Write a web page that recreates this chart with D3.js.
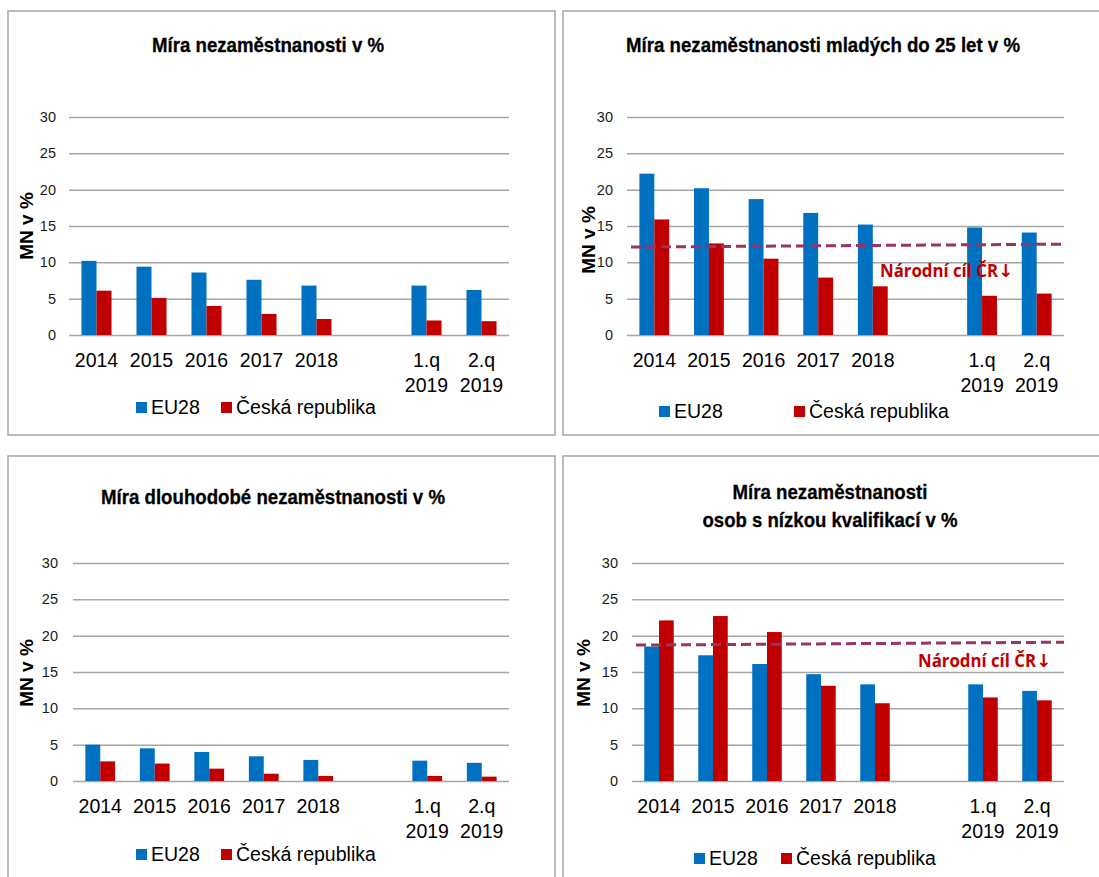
<!DOCTYPE html>
<html>
<head>
<meta charset="utf-8">
<script src="https://cdn.jsdelivr.net/npm/d3@7"></script>
<style>
body{margin:0;background:#fff;}
svg{display:block;font-family:"Liberation Sans",Arial,sans-serif;}
</style>
</head>
<body>
<svg id="chart" width="1099" height="877"></svg>
<script>
//Categories on the x axis (the empty one is the gap before the quarters)
const categories = ["2014","2015","2016","2017","2018","","1.q 2019","2.q 2019"];
const seriesNames = ["EU28","Česká republika"];
const yTicks = [0,5,10,15,20,25,30];
const targetLabel = "Národní cíl ČR";

//Míra nezaměstnanosti
const totalEU = [10.2,9.4,8.6,7.6,6.8,null,6.8,6.2];
const totalCR = [6.1,5.1,4.0,2.9,2.2,null,2.0,1.9];

//Míra nezaměstnanosti mladých do 25 let
const youthEU = [22.2,20.2,18.7,16.8,15.2,null,14.8,14.1];
const youthCR = [15.9,12.6,10.5,7.9,6.7,null,5.4,5.7];
const youthTarget = [12.1,12.5];

//Míra dlouhodobé nezaměstnanosti
const longEU = [5.0,4.5,4.0,3.4,2.9,null,2.8,2.5];
const longCR = [2.7,2.4,1.7,1.0,0.7,null,0.7,0.6];

//Míra nezaměstnanosti osob s nízkou kvalifikací
const lowEU = [18.5,17.3,16.1,14.7,13.3,null,13.3,12.4];
const lowCR = [22.1,22.7,20.5,13.1,10.7,null,11.5,11.1];
const lowTarget = [18.7,19.1];

const color = d3.scaleOrdinal().domain(seriesNames).range(["#0070C0","#C00000"]);

//Layout of the four panels
const panels = [
    {box:[8,11,547,424], left:69, right:509, top:117, bottom:335, tickX:56,
     title:["Míra nezaměstnanosti v %"], titleX:268, titleY:[52], titleLen:[232],
     yTitle:[33,226], xLabelY:367, legendX:[136,221], legendY:414,
     eu:totalEU, cr:totalCR},
    {box:[563,11,545,424], left:627, right:1064, top:117, bottom:335, tickX:613,
     title:["Míra nezaměstnanosti mladých do 25 let v %"], titleX:823, titleY:[52], titleLen:[394],
     yTitle:[595,240], xLabelY:367, legendX:[659,794], legendY:418,
     eu:youthEU, cr:youthCR, target:youthTarget, targetX:880, targetY:277},
    {box:[8,456,547,440], left:73, right:509, top:563, bottom:781, tickX:58,
     title:["Míra dlouhodobé nezaměstnanosti v %"], titleX:273, titleY:[504], titleLen:[344],
     yTitle:[33,673], xLabelY:813, legendX:[136,221], legendY:861,
     eu:longEU, cr:longCR},
    {box:[563,456,545,440], left:632, right:1064, top:563, bottom:781, tickX:618,
     title:["Míra nezaměstnanosti","osob s nízkou kvalifikací v %"], titleX:830, titleY:[499,527], titleLen:[195,255],
     yTitle:[590,673], xLabelY:813, legendX:[694,781], legendY:865,
     eu:lowEU, cr:lowCR, target:lowTarget, targetX:918, targetY:667}
];

const svg = d3.select("#chart");

function drawPanel(p){
    const g = svg.append("g");

    //Panel border
    g.append("rect")
        .attr("x",p.box[0]).attr("y",p.box[1])
        .attr("width",p.box[2]).attr("height",p.box[3])
        .attr("fill","#fff")
        .attr("stroke","#a6a6a6")
        .attr("stroke-width",1.5);

    //Title
    p.title.forEach((t,i)=>{
        g.append("text")
            .attr("x",p.titleX)
            .attr("y",p.titleY[i])
            .attr("text-anchor","middle")
            .attr("font-weight","bold")
            .style("font-size","21px")
            .attr("stroke","#000")
            .attr("stroke-width",0.3)
            .attr("textLength",p.titleLen[i])
            .attr("lengthAdjust","spacingAndGlyphs")
            .text(t);
    });

    //Scales
    const x = d3.scaleBand().domain(categories).range([p.left,p.right]);
    const xs = d3.scaleBand().domain(seriesNames)
        .range([x.bandwidth()*0.227,x.bandwidth()*0.773]);
    const y = d3.scaleLinear().domain([0,30]).range([p.bottom,p.top]);

    //Y axis with gridlines
    g.append("g")
        .attr("transform",`translate(${p.left},0)`)
        .call(d3.axisLeft(y).tickValues(yTicks).tickSize(-(p.right-p.left)).tickPadding(p.left-p.tickX))
        .attr("font-size",null)
        .attr("font-family",null)
        .call(a=>a.select(".domain").remove())
        .call(a=>a.selectAll(".tick line").attr("stroke","#a6a6a6").attr("stroke-width",1.5))
        .call(a=>a.selectAll(".tick text").style("font-size","14.5px").attr("fill","#1a1a1a"));

    //Y axis title
    g.append("text")
        .attr("transform",`translate(${p.yTitle[0]},${p.yTitle[1]}) rotate(-90)`)
        .attr("text-anchor","middle")
        .attr("font-weight","bold")
        .style("font-size","19px")
        .text("MN v %");

    //X axis labels (two lines for quarters)
    const xAxis = g.append("g")
        .attr("transform",`translate(0,${p.bottom})`)
        .call(d3.axisBottom(x).tickSize(0))
        .attr("font-size",null)
        .attr("font-family",null);
    xAxis.select(".domain").remove();
    xAxis.selectAll(".tick text").each(function(d){
        const t = d3.select(this)
            .attr("y",p.xLabelY-p.bottom)
            .attr("dy",null)
            .attr("fill","#000")
            .style("font-size","19.5px")
            .text(null);
        d.split(" ").forEach((l,i)=>{
            t.append("tspan").attr("x",0).attr("dy",i?25:0).text(l);
        });
    });

    //Bars
    const rows = categories.map((c,i)=>({cat:c,vals:[p.eu[i],p.cr[i]]}))
        .filter(r=>r.vals[0]!=null);
    g.selectAll(".grp")
        .data(rows)
        .enter()
        .append("g")
        .attr("transform",d=>`translate(${x(d.cat)},0)`)
        .selectAll("rect")
        .data(d=>seriesNames.map((s,k)=>({s:s,v:d.vals[k]})))
        .enter()
        .append("rect")
        .attr("x",d=>xs(d.s))
        .attr("y",d=>y(d.v))
        .attr("width",xs.bandwidth())
        .attr("height",d=>y(0)-y(d.v))
        .attr("fill",d=>color(d.s));

    //National target line
    if(p.target){
        g.append("line")
            .attr("x1",p.left+4).attr("x2",p.right)
            .attr("y1",y(p.target[0])).attr("y2",y(p.target[1]))
            .attr("stroke","#993366")
            .attr("stroke-width",3)
            .attr("stroke-dasharray","10,5");
        const lbl = g.append("text")
            .attr("x",p.targetX)
            .attr("y",p.targetY)
            .attr("fill","#C00000");
        lbl.append("tspan")
            .attr("font-family","'Open Sans',sans-serif")
            .attr("font-weight","bold")
            .style("font-size","17px")
            .attr("textLength",118)
            .attr("lengthAdjust","spacingAndGlyphs")
            .text(targetLabel);
        lbl.append("tspan")
            .attr("font-family","'DejaVu Sans',sans-serif")
            .attr("font-weight","bold")
            .style("font-size","18px")
            .text("↓");
    }

    //Legend
    seriesNames.forEach((s,k)=>{
        g.append("rect")
            .attr("x",p.legendX[k])
            .attr("y",p.legendY-12)
            .attr("width",11)
            .attr("height",11)
            .attr("fill",color(s));
        g.append("text")
            .attr("x",p.legendX[k]+15)
            .attr("y",p.legendY)
            .style("font-size","19.5px")
            .text(s);
    });
}

panels.forEach(drawPanel);
</script>
</body>
</html>
